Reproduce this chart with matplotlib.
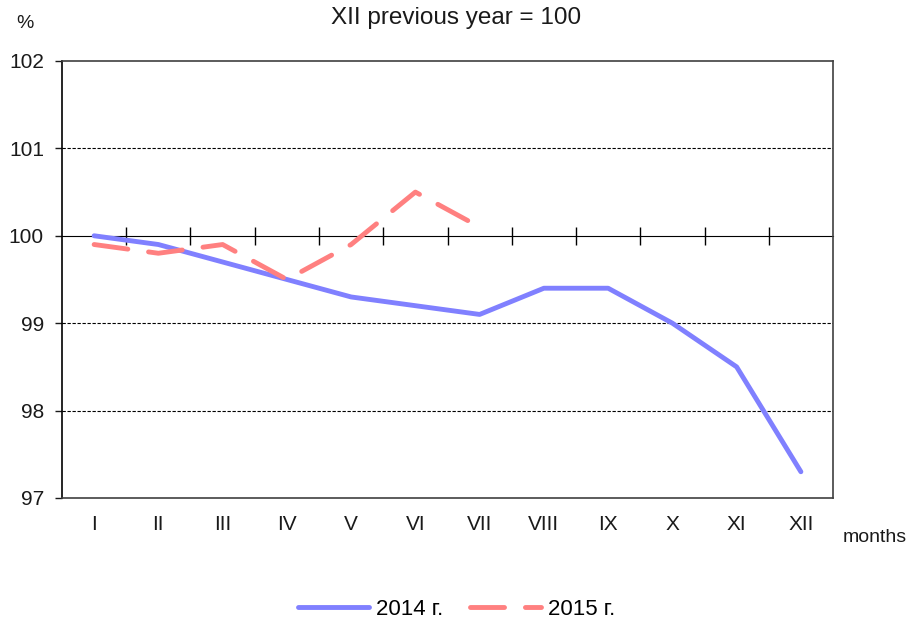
import matplotlib
matplotlib.use("Agg")
import matplotlib.pyplot as plt

plt.rcParams['font.family'] = ['Liberation Sans', 'DejaVu Sans']

months = ['I', 'II', 'III', 'IV', 'V', 'VI', 'VII', 'VIII', 'IX', 'X', 'XI', 'XII']
vals_2014 = [100.0, 99.9, 99.7, 99.5, 99.3, 99.2, 99.1, 99.4, 99.4, 99.0, 98.5, 97.3]
vals_2015 = [99.9, 99.8, 99.9, 99.5, 99.9, 100.5, 100.1]
y_ticks = [97, 98, 99, 100, 101, 102]

blue = '#8080FF'
red = '#FF8080'

fig = plt.figure(figsize=(9.13, 6.26), dpi=100)
ax = fig.add_axes([0.0679, 0.2045, 0.9124 - 0.0679, 0.9026 - 0.2045])

x = list(range(len(months)))
ax.plot(x, vals_2014, color=blue, lw=3.5, solid_capstyle='round', label='2014 г.', zorder=4)
ax.plot(x[:len(vals_2015)], vals_2015, color=red, lw=3.5, dashes=(7, 4.3),
        dash_capstyle='round', label='2015 г.', zorder=5)

ax.set_xlim(-0.5, len(months) - 0.5)
ax.set_ylim(97, 102)
ax.set_yticks(y_ticks)
ax.set_yticklabels([str(v) for v in y_ticks])
ax.set_xticks(x)
ax.set_xticklabels(months)
ax.tick_params(axis='x', length=0, pad=12, labelsize=15, colors='#1a1a1a')
ax.tick_params(axis='y', length=5, width=1, pad=8, labelsize=15, direction='out', colors='#1a1a1a')

# gridlines
for v in [98, 99, 101]:
    ax.axhline(v, color='black', lw=0.8, linestyle=(0, (3, 1.5)), zorder=1)

# category axis crossing at 100 with boundary ticks
sec = ax.secondary_xaxis((100 - 97) / (102 - 97))
sec.set_xticks([i + 0.5 for i in range(len(months) - 1)])
sec.set_xticklabels([])
sec.tick_params(direction='inout', length=13, width=1, labelbottom=False, labeltop=False,
                color='black')
sec.spines['bottom'].set_color('black')
sec.spines['bottom'].set_linewidth(1.2)
sec.set_zorder(2)

for s in ['top', 'right', 'bottom']:
    ax.spines[s].set_color('#404040')
    ax.spines[s].set_linewidth(1.2)
ax.spines['left'].set_color('black')
ax.spines['left'].set_linewidth(1.2)

fig.text(0.5, 0.971, 'XII previous year = 100', ha='center', va='center', fontsize=17.5, color='#1a1a1a')
fig.text(0.027, 0.963, '%', ha='center', va='center', fontsize=14, color='#1a1a1a')
fig.text(0.958, 0.141, 'months', ha='center', va='center', fontsize=14, color='#1a1a1a')

fig.legend(loc='center', bbox_to_anchor=(0.5, 0.026), ncol=2, frameon=False,
           fontsize=16, handlelength=3.2, handletextpad=0.3, columnspacing=1.2)

fig.savefig('out.png', dpi=100)
